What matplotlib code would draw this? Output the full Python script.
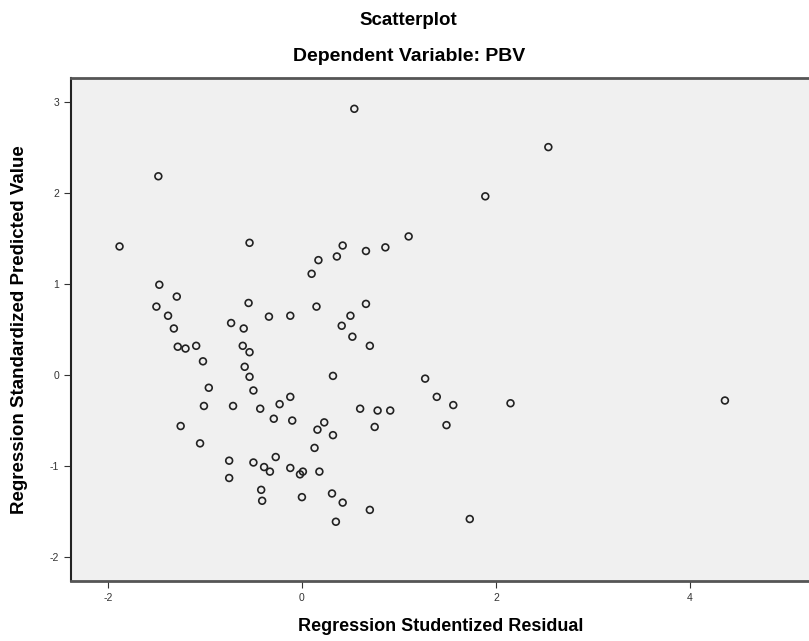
import matplotlib.pyplot as plt

# Regression Studentized Residual (x) vs Standardized Predicted Value (y)
resid = [0.54, 2.54, -1.48, 1.89, -1.88, -0.54, 1.10, 0.42, 0.36, 0.17,
         0.66, 0.86, 0.10, -1.47, -1.29, -1.50, -1.38, -1.32, -1.28, -1.20,
         -1.09, -0.55, -0.73, -0.34, -0.12, 0.15, 0.66, 0.50, 0.41, 0.52,
         0.70, -0.60, -0.61, -0.54, -1.02, -0.59, -0.54, 0.32, 1.27, -0.96,
         -0.50, 1.39, 1.56, 2.15, 4.36, -1.01, -0.71, -0.23, -0.12, -0.43,
         0.60, 0.78, 0.91, -0.29, -0.10, 0.23, 0.16, 0.32, 0.75, 1.49,
         -1.25, -1.05, 0.13, -0.75, -0.75, -0.50, -0.39, -0.33, -0.27, -0.12,
         -0.02, 0.01, 0.18, -0.42, -0.41, 0.00, 0.31, 0.42, 0.70, 0.35, 1.73]
predicted = [2.92, 2.50, 2.18, 1.96, 1.41, 1.45, 1.52, 1.42, 1.30, 1.26,
             1.36, 1.40, 1.11, 0.99, 0.86, 0.75, 0.65, 0.51, 0.31, 0.29,
             0.32, 0.79, 0.57, 0.64, 0.65, 0.75, 0.78, 0.65, 0.54, 0.42,
             0.32, 0.51, 0.32, 0.25, 0.15, 0.09, -0.02, -0.01, -0.04, -0.14,
             -0.17, -0.24, -0.33, -0.31, -0.28, -0.34, -0.34, -0.32, -0.24, -0.37,
             -0.37, -0.39, -0.39, -0.48, -0.50, -0.52, -0.60, -0.66, -0.57, -0.55,
             -0.56, -0.75, -0.80, -0.94, -1.13, -0.96, -1.01, -1.06, -0.90, -1.02,
             -1.09, -1.06, -1.06, -1.26, -1.38, -1.34, -1.30, -1.40, -1.48, -1.61, -1.58]

x_ticks = [-2, 0, 2, 4]
y_ticks = [-2, -1, 0, 1, 2, 3]

plt.rcParams['font.family'] = ['Liberation Sans', 'DejaVu Sans']
plt.rcParams['axes.unicode_minus'] = False

fig = plt.figure(figsize=(8.09, 6.41), dpi=100)
ax = fig.add_axes([0.0878, 0.0936, 0.915, 0.785])
ax.set_facecolor('#f0f0f0')

ax.scatter(resid, predicted, s=24, facecolors='none', edgecolors='#222222', linewidths=1.2)

ax.set_xlim(-2.38, 5.25)
ax.set_ylim(-2.26, 3.26)
ax.set_xticks(x_ticks)
ax.set_yticks(y_ticks)
ax.tick_params(labelsize=7.5, length=5, colors='#333333')

for side in ['top', 'bottom']:
    ax.spines[side].set_color('#555555')
    ax.spines[side].set_linewidth(2)
ax.spines['left'].set_color('#222222')
ax.spines['left'].set_linewidth(1.5)
ax.spines['right'].set_visible(False)

fig.text(0.505, 0.968, "Scatterplot", ha='center', va='center', fontsize=13.5, fontweight='bold')
fig.text(0.506, 0.912, "Dependent Variable: PBV", ha='center', va='center', fontsize=14, fontweight='bold')
ax.set_xlabel("Regression Studentized Residual", fontsize=13, fontweight='bold', va='center')
ax.set_ylabel("Regression Standardized Predicted Value", fontsize=13.5, fontweight='bold', va='center')
ax.xaxis.set_label_coords(0.5, -0.09)
ax.yaxis.set_label_coords(-0.07, 0.5)

plt.savefig("out.png", dpi=100)
